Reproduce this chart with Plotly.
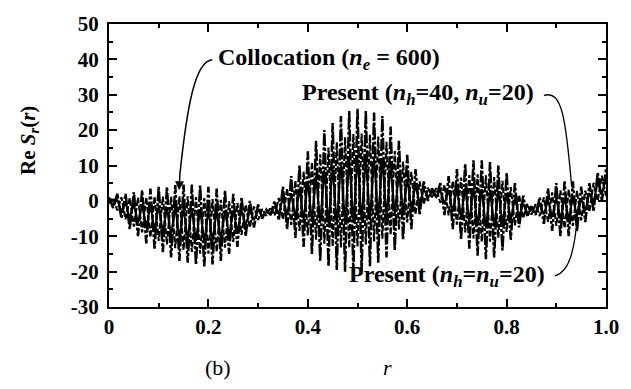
import numpy as np
import plotly.graph_objects as go

# ---- data (peaks / troughs of the fast oscillation) ----
collocation_upper = [1, 2, 2, 2.5, 3, 3.5, 4, 4, 4.5, 4.6, 4.6, 4.3, 4, 3.5, 3, 2, 1, 0, -1, -2.5,
                     0, 4, 7, 10, 14, 17, 20, 22, 24, 25.5, 26, 25.5, 25, 24, 21, 17, 13, 9, 5.5, 3.5,
                     5, 7, 9, 10.5, 11.5, 11.5, 11, 10, 8, 5, 1.5, -1.5, 1, 3.5, 5, 5.5, 5.5, 4, 5, 8, 9]
collocation_lower = [-2, -5, -8, -10, -12, -13.5, -14.5, -16, -17, -17.5, -18, -18.5, -18, -17, -15, -13, -10, -7.5, -5, -4,
                     -5.5, -8, -10.5, -13, -15, -17, -18.5, -19.5, -20, -20, -19.5, -18.5, -17.5, -16, -14, -11, -8, -4, 0, 1,
                     -4, -8, -11, -13.5, -15.5, -16.5, -16, -14, -11, -7.5, -4.5, -4, -6.5, -8.5, -10, -10, -8.5, -6, -3, 0]

present40_trough = [-0.7, -2.7, -5.2, -7.3, -8.9, -10.3, -11.3, -12.3, -13.4, -13.9, -14.4, -14.9, -14.9, -14.4, -13.2,
                    -11.6, -9.6, -7.5, -5.4, -4.2, -4.1, -5.2, -6.8, -8.5, -9.8, -11.0, -12.1, -12.9, -13.2, -13.2,
                    -12.9, -12.3, -11.5, -10.7, -9.6, -8.1, -6.1, -3.8, -0.9, 1.0, -0.5, -4.1, -6.7, -8.9, -10.6,
                    -11.6, -11.5, -10.4, -8.8, -6.9, -4.9, -3.9, -4.3, -5.9, -7.1, -7.7, -7.1, -5.5, -3.1, 0.0, 1.4]
present40_peak = [0.9, 1.0, 0.8, 0.9, 1.0, 1.2, 1.2, 1.2, 1.3, 1.3, 1.1, 0.8, 0.5, 0.3, -0.1, -0.6, -1.1, -1.6, -2.3, -1.8,
                  0.8, 3.5, 5.7, 8.3, 10.9, 13.2, 15.1, 16.6, 18.0, 18.9, 19.0, 18.7, 18.2, 16.7, 14.1, 11.1, 8.2, 5.5, 3.7, 3.6,
                  4.5, 5.6, 6.6, 7.3, 7.5, 7.2, 6.7, 5.7, 3.9, 1.7, -0.8, -0.9, 1.0, 2.4, 3.0, 3.2, 2.8, 2.9, 5.1, 7.1]

present20_peak = [0.4, 0.4, -0.6, -1.0, -1.2, -1.4, -1.4, -1.8, -1.8, -2.0, -2.1, -2.5, -2.7, -2.8, -2.7, -2.8, -2.8,
                  -2.7, -2.6, -3.1, -1.5, 0.8, 2.2, 3.5, 5.6, 7.1, 8.7, 9.7, 10.9, 11.9, 12.3, 12.2, 12.1, 11.8, 10.2,
                  8.2, 6.3, 4.5, 3.3, 2.6, 3.1, 3.1, 3.5, 3.7, 3.7, 3.4, 3.1, 2.8, 2.1, 0.8, -0.8, -2.4, -0.9, 0.2,
                  0.8, 0.9, 1.1, 0.7, 2.2, 5.2, 6.3]
present20_trough = [-1.2, -2.9, -4.8, -6.2, -7.3, -8.2, -9.0, -9.8, -10.5, -10.9, -11.3, -11.6, -11.4, -10.8, -9.8,
                    -8.5, -6.9, -5.4, -4.3, -3.7, -3.5, -4.0, -4.8, -5.5, -5.9, -6.3, -6.6, -6.7, -6.5, -6.2, -5.9,
                    -5.4, -4.9, -4.4, -4.0, -3.2, -2.2, -0.7, 0.9, 1.0, -0.9, -3.1, -4.7, -6.1, -7.1, -7.6, -7.2,
                    -6.4, -5.4, -4.3, -3.7, -3.4, -3.8, -4.6, -5.2, -5.2, -4.4, -2.8, -0.2, 2.1]

x_tickvals = [0, 0.2, 0.4, 0.6, 0.8, 1.0]
x_ticktext = ["0", "0.2", "0.4", "0.6", "0.8", "1.0"]
y_tickvals = [-30, -20, -10, 0, 10, 20, 30, 40, 50]
y_ticktext = ["-30", "-20", "-10", "0", "10", "20", "30", "40", "50"]


def interleave(even_vals, odd_vals):
    out = []
    for i, v in enumerate(even_vals):
        out.append(v)
        if i < len(odd_vals):
            out.append(odd_vals[i])
    return out


r_grid = np.linspace(0, 1, len(collocation_upper) + len(collocation_lower))
y_colloc = interleave(collocation_upper, collocation_lower)
y_p40 = interleave(present40_trough, present40_peak)
y_p20 = interleave(present20_peak, present20_trough)

fig = go.Figure()
fig.add_trace(go.Scatter(x=r_grid, y=y_colloc, mode="lines", name="Collocation (ne=600)",
                         line=dict(color="black", width=2.5, dash="12px,2px,3px,2px")))
fig.add_trace(go.Scatter(x=r_grid, y=y_p40, mode="lines", name="Present (nh=40, nu=20)",
                         line=dict(color="black", width=2.1, dash="6px,2px")))
fig.add_trace(go.Scatter(x=r_grid, y=y_p20, mode="lines", name="Present (nh=nu=20)",
                         line=dict(color="black", width=1.9)))

FONT = "Liberation Serif"
tickfont = dict(family=FONT, size=21, color="black", weight="bold")

fig.update_xaxes(range=[0, 1], tickvals=x_tickvals, ticktext=x_ticktext, ticks="inside", ticklen=8,
                 tickwidth=1.5, tickcolor="black", showline=True, linewidth=2, linecolor="black",
                 mirror="ticks", showgrid=False, zeroline=False, tickfont=tickfont,
                 minor=dict(ticks="inside", ticklen=4, tickwidth=1.5, tickcolor="black",
                            tickvals=[0.1, 0.3, 0.5, 0.7, 0.9]))
fig.update_yaxes(range=[-30, 50], tickvals=y_tickvals, ticktext=y_ticktext, ticks="inside", ticklen=8,
                 tickwidth=1.5, tickcolor="black", showline=True, linewidth=2, linecolor="black",
                 mirror="ticks", showgrid=False, zeroline=False, tickfont=tickfont, ticklabelstandoff=4,
                 minor=dict(ticks="inside", ticklen=4, tickwidth=1.5, tickcolor="black",
                            tickvals=[-25, -15, -5, 5, 15, 25, 35, 45]))

afont = dict(family=FONT, size=24, color="black", weight="bold")
tfont = dict(family=FONT, size=21, color="black", weight="bold")
lfont = dict(family=FONT, size=22, color="black")
annotations = [
    dict(x=0.216, y=40.1, xref="x", yref="y", text="Collocation (<i>n<sub>e</sub></i> = 600)",
         showarrow=False, xanchor="left", yanchor="middle", font=afont),
    dict(x=0.859, y=30.3, xref="x", yref="y", text="Present (<i>n<sub>h</sub></i>=40, <i>n<sub>u</sub></i>=20)",
         showarrow=False, xanchor="right", yanchor="middle", font=afont),
    dict(x=0.881, y=-21.3, xref="x", yref="y", text="Present (<i>n<sub>h</sub></i>=<i>n<sub>u</sub></i>=20)",
         showarrow=False, xanchor="right", yanchor="middle", font=afont),
    dict(x=0.141, y=3.0, xref="x", yref="y", ax=0.143, ay=8.5, axref="x", ayref="y", text="",
         showarrow=True, arrowhead=2, arrowsize=1.2, arrowwidth=1.5, arrowcolor="black"),
    dict(x=-0.161, y=0.59, xref="paper", yref="paper", text="Re <i>S<sub>r</sub></i>(<i>r</i>)",
         textangle=-90, showarrow=False, xanchor="center", yanchor="middle", font=tfont),
    dict(x=0.22, y=-0.213, xref="paper", yref="paper", text="(b)", showarrow=False,
         xanchor="center", yanchor="middle", font=lfont),
    dict(x=0.56, y=-0.213, xref="paper", yref="paper", text="<i>r</i>", showarrow=False,
         xanchor="center", yanchor="middle", font=lfont),
]

shapes = [
    dict(type="path", xref="x", yref="y", path="M 0.208,39.9 C 0.173,39.6 0.157,26.5 0.143,8.0",
         line=dict(color="black", width=1.5)),
    dict(type="path", xref="x", yref="y", path="M 0.875,29.8 C 0.911,31.4 0.919,23.8 0.931,3.85",
         line=dict(color="black", width=1.3)),
    dict(type="path", xref="x", yref="y", path="M 0.897,-21.2 C 0.925,-20.2 0.938,-14.7 0.944,-1.3",
         line=dict(color="black", width=1.3)),
]

fig.update_layout(width=631, height=389, margin=dict(l=109, r=18, t=14, b=82),
                  plot_bgcolor="white", paper_bgcolor="white", showlegend=False,
                  annotations=annotations, shapes=shapes)

fig.write_html("out.html", config={"displayModeBar": False},
               post_script="document.body.style.margin='0px';")
